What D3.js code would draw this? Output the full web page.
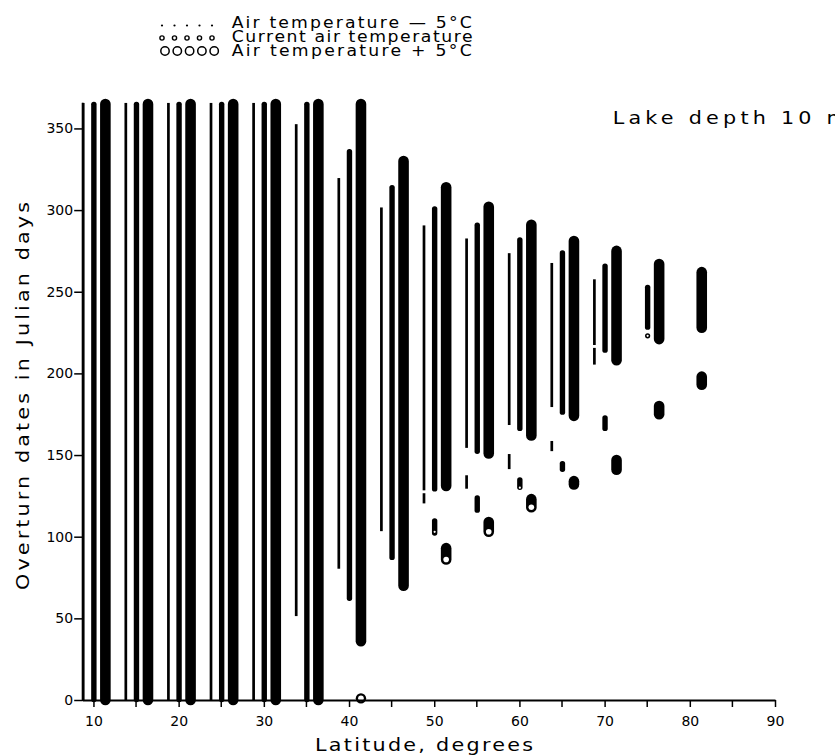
<!DOCTYPE html>
<html><head><meta charset="utf-8">
<script src="https://cdn.jsdelivr.net/npm/d3@7"></script>
<style>body{margin:0;background:#fff}svg{display:block}text{font-family:"DejaVu Sans",sans-serif;fill:#000}</style>
</head><body>
<svg id="c" width="835" height="756"></svg>
<script>
const xTicks = [10,20,30,40,50,60,70,80,90];
const xMinorTicks = [15,25,35,45,55,65,75,85];
const yTicks = [0,50,100,150,200,250,300,350];
const legendLabels = ["Air temperature \u2014 5\u00b0C","Current air temperature","Air temperature + 5\u00b0C"];
const xTitle = "Latitude, degrees";
const yTitle = "Overturn dates in Julian days";
const panelLabel = "Lake depth 10 m";

// [latitude group, first day, last day] of overturn periods
const coolerRanges = [[10,0,365],[15,0,365],[20,0,365],[25,0,365],[30,0,365],[35,52,352],
  [40,81,319],[45,104,301],[50,129,290],[50,121,126],[55,155,282],[55,130,137],
  [60,169,273],[60,142,150],[65,180,267],[65,153,158],[70,218,257],[70,206,215]];
const currentRanges = [[10,0,365],[15,0,365],[20,0,365],[25,0,365],[30,0,365],[35,0,365],
  [40,62,336],[45,87,314],[50,129,301],[50,102,110],[55,152,291],[55,116,124],
  [60,166,282],[60,130,135],[65,176,274],[65,141,145],[70,214,266],[70,166,173],[75,228,253]];
const warmerRanges = [[10,0,365],[15,0,365],[20,0,365],[25,0,365],[30,0,365],[35,0,365],
  [40,36,365],[45,70,330],[50,131,314],[50,86,93],[55,151,302],[55,103,109],
  [60,162,291],[60,118,123],[65,174,281],[65,132,134],[70,208,275],[70,141,147],
  [75,221,267],[75,175,180],[80,228,262],[80,193,198]];
// single-day overturns drawn as open circles [latitude group, day]
const currentSingles = [[75,223]];
const warmerSingles = [[40,1]];
const currentHoles = [[50,103],[60,130]];
const warmerHoles = [[50,86],[55,103],[60,118]];

const svg = d3.select("#c");
const x = d3.scaleLinear().domain([8.68, 90]).range([82.2, 775]);
const y = d3.scaleLinear().domain([0, 366]).range([700, 102.3]);

const series = [
  {data: coolerRanges, off: -1.2, w: 2.7, pad: 1, rx: 0},
  {data: currentRanges, off: 0.05, w: 5.4, pad: 2.2, rx: 2.6},
  {data: warmerRanges, off: 1.4, w: 10.6, pad: 5.3, rx: 5.3}
];
series.forEach(s => {
  svg.append("g").selectAll("rect").data(s.data).join("rect")
    .attr("x", d => x(d[0] + s.off) - s.w/2)
    .attr("width", s.w)
    .attr("y", d => y(d[2]) - s.pad)
    .attr("height", d => y(d[1]) - y(d[2]) + 2*s.pad)
    .attr("rx", s.rx).attr("fill", "#000");
});
function singles(data, off, r, ri){
  const g = svg.append("g");
  g.selectAll("circle.o").data(data).join("circle").attr("class","o")
    .attr("cx", d => x(d[0] + off)).attr("cy", d => y(d[1])).attr("r", r).attr("fill", "#000");
  g.selectAll("circle.i").data(data).join("circle").attr("class","i")
    .attr("cx", d => x(d[0] + off)).attr("cy", d => y(d[1])).attr("r", ri).attr("fill", "#fff");
}
singles(currentSingles, 0.05, 2.6, 1.1);
singles(warmerSingles, 1.4, 5.2, 2.8);
svg.append("g").selectAll("circle").data(currentHoles).join("circle")
  .attr("cx", d => x(d[0] + 0.05)).attr("cy", d => y(d[1])).attr("r", 1.1).attr("fill", "#fff");
svg.append("g").selectAll("circle").data(warmerHoles).join("circle")
  .attr("cx", d => x(d[0] + 1.4)).attr("cy", d => y(d[1])).attr("r", 2.8).attr("fill", "#fff");

// axes
const yAxis = svg.append("g").attr("transform", "translate(82.2,0)")
  .call(d3.axisLeft(y).tickValues(yTicks).tickSize(8).tickSizeOuter(0).tickPadding(1).tickFormat(d3.format("d")));
const xAxis = svg.append("g").attr("transform", `translate(0,${y(0)})`)
  .call(d3.axisBottom(x).tickValues(xTicks).tickSize(7).tickSizeOuter(0).tickPadding(9).tickFormat(d3.format("d")));
xAxis.selectAll(".minor").data(xMinorTicks).join("line").attr("class","minor")
  .attr("x1", d => x(d)).attr("x2", d => x(d)).attr("y1", 0).attr("y2", 7)
  .attr("stroke", "#000").attr("stroke-width", 1.5);
[yAxis, xAxis].forEach(a => {
  a.select(".domain").attr("stroke", "#000").attr("stroke-width", 1.8);
  a.selectAll(".tick line").attr("stroke", "#000").attr("stroke-width", 1.5);
  a.selectAll(".tick text").attr("font-size", 14).attr("font-family", "DejaVu Sans").attr("fill", "#000");
});

// wide lettering: stretch glyphs horizontally, then fit the measured length
function wideText(tx, ty, rot, size, stretch, len, str){
  return svg.append("text")
    .attr("transform", `translate(${tx},${ty}) rotate(${rot}) scale(${stretch},1)`)
    .attr("font-size", size)
    .attr("textLength", len / stretch).attr("lengthAdjust", "spacing").text(str);
}
wideText(315, 751, 0, 18, 1.15, 218, xTitle);
wideText(29, 590, -90, 18, 1.15, 388, yTitle);
wideText(612.7, 124, 0, 18, 1.15, 234, panelLabel);

// legend
const legY = [28.3, 42.3, 56];
const legLen = [240, 241, 240];
const dots = d3.range(5);
legendLabels.forEach((t, i) => wideText(231.7, legY[i], 0, 15, 1.15, legLen[i], t));
svg.append("g").selectAll("circle").data(dots).join("circle")
  .attr("cx", i => 162 + i*12.5).attr("cy", 25.5).attr("r", 1.1).attr("fill", "#000");
svg.append("g").selectAll("circle").data(dots).join("circle")
  .attr("cx", i => 162 + i*12.5).attr("cy", 38).attr("r", 2.1)
  .attr("fill", "#fff").attr("stroke", "#000").attr("stroke-width", 1.4);
svg.append("g").selectAll("circle").data(dots).join("circle")
  .attr("cx", i => 165 + i*12.3).attr("cy", 51).attr("r", 4.2)
  .attr("fill", "#fff").attr("stroke", "#000").attr("stroke-width", 1.5);
</script>
</body></html>
